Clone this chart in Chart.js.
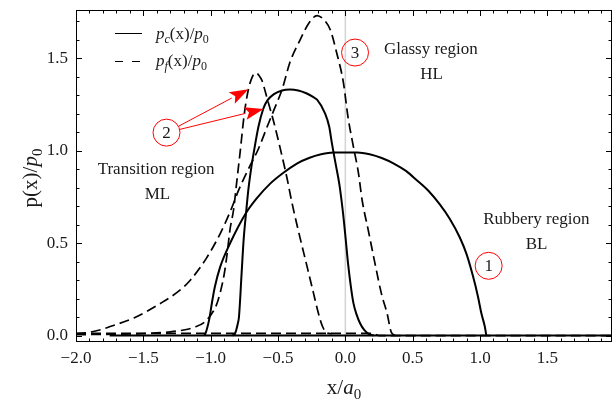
<!DOCTYPE html>
<html>
<head>
<meta charset="utf-8">
<script src="https://cdn.jsdelivr.net/npm/chart.js@4.4.1/dist/chart.umd.min.js"></script>
<style>
  html, body { margin: 0; padding: 0; background: #fff; }
  canvas { display: block; }
</style>
</head>
<body>
<canvas id="chart" width="613" height="404"></canvas>
<script>
// Axis ticks
const xTicks = [-2.0, -1.5, -1.0, -0.5, 0.0, 0.5, 1.0, 1.5];
const yTicks = [0.0, 0.5, 1.0, 1.5];

// Rubbery region (BL), contact pressure p_c
const blcX = [-1.045, -1.03, -1.01, -0.99, -0.97, -0.93, -0.855, -0.74, -0.66, -0.56, -0.46, -0.36, -0.27, -0.18, -0.09, 0.0, 0.09, 0.18, 0.27, 0.36, 0.45, 0.53, 0.62, 0.7, 0.776, 0.85, 0.9, 0.948, 0.985, 1.01, 1.035, 1.047];
const blcY = [0.0, 0.03, 0.09, 0.18, 0.26, 0.37, 0.5, 0.66, 0.74, 0.82, 0.88, 0.93, 0.96, 0.98, 0.99, 0.99, 0.99, 0.98, 0.96, 0.93, 0.89, 0.84, 0.78, 0.71, 0.63, 0.53, 0.44, 0.32, 0.21, 0.12, 0.05, 0.0];
// Rubbery region (BL), friction p_f (almost zero)
const blfX = [-2.0, 0.2, 0.25, 1.98];
const blfY = [0.012, 0.012, 0.0, 0.0];

// Transition region (ML), p_c
const mlcX = [-0.84, -0.82, -0.8, -0.79, -0.77, -0.755, -0.735, -0.72, -0.7, -0.68, -0.645, -0.61, -0.58, -0.53, -0.47, -0.41, -0.35, -0.29, -0.24, -0.21, -0.15, -0.12, -0.1, -0.07, -0.045, -0.02, 0.0, 0.02, 0.04, 0.06, 0.085, 0.11, 0.14, 0.17, 0.21];
const mlcY = [0.0, 0.01, 0.06, 0.1, 0.34, 0.52, 0.68, 0.79, 0.9, 0.99, 1.13, 1.225, 1.27, 1.305, 1.325, 1.33, 1.325, 1.31, 1.29, 1.275, 1.2, 1.13, 1.04, 0.92, 0.82, 0.68, 0.54, 0.39, 0.27, 0.175, 0.11, 0.065, 0.03, 0.01, 0.0];
// Transition region (ML), p_f
const mlfX = [-2.0, -1.7, -1.45, -1.3, -1.2, -1.12, -1.05, -1.0, -0.96, -0.93, -0.9, -0.88, -0.855, -0.83, -0.805, -0.78, -0.75, -0.72, -0.69, -0.665, -0.64, -0.62, -0.58, -0.53, -0.47, -0.43, -0.4, -0.35, -0.29, -0.24, -0.2, -0.17, -0.14, -0.1];
const mlfY = [0.005, 0.007, 0.012, 0.02, 0.03, 0.045, 0.07, 0.11, 0.16, 0.23, 0.33, 0.43, 0.58, 0.68, 0.84, 1.0, 1.2, 1.33, 1.4, 1.42, 1.405, 1.38, 1.28, 1.15, 0.97, 0.84, 0.73, 0.57, 0.39, 0.24, 0.12, 0.05, 0.015, 0.01];

// Glassy region (HL), p_c (almost zero)
const hlcX = [-1.75, 1.98];
const hlcY = [0.0, 0.0];
// Glassy region (HL), p_f
const hlfX = [-2.0, -1.92, -1.8, -1.74, -1.57, -1.37, -1.22, -1.15, -1.03, -0.93, -0.855, -0.79, -0.72, -0.645, -0.58, -0.53, -0.47, -0.41, -0.335, -0.27, -0.21, -0.15, -0.11, -0.065, -0.015, 0.02, 0.06, 0.097, 0.125, 0.17, 0.22, 0.27, 0.31, 0.34, 0.37];
const hlfY = [0.01, 0.015, 0.035, 0.05, 0.095, 0.175, 0.25, 0.3, 0.42, 0.55, 0.67, 0.79, 0.9, 1.01, 1.13, 1.22, 1.33, 1.48, 1.6, 1.69, 1.73, 1.7, 1.65, 1.53, 1.37, 1.18, 1.02, 0.88, 0.73, 0.57, 0.39, 0.22, 0.12, 0.02, 0.0];

// Annotations in data coordinates
const regionLabels = [
    ['Transition region', -1.405, 0.897], ['ML', -1.395, 0.76],
    ['Glassy region', 0.635, 1.546], ['HL', 0.64, 1.41],
    ['Rubbery region', 1.418, 0.626], ['BL', 1.42, 0.49]
];
const circleLabels = [['1', 1.064, 0.377], ['2', -1.328, 1.097], ['3', 0.072, 1.53]];
const arrowTips = [[-0.719, 1.332], [-0.607, 1.225]];

const SERIF = '"Liberation Serif", "DejaVu Serif", serif';
const TEXT = '#1a1a1a';

function pts(xs, ys) {
    return xs.map((x, i) => ({ x: x, y: ys[i] }));
}

function solid(xs, ys) {
    return { data: pts(xs, ys), borderColor: '#000', borderWidth: 2, showLine: true,
             pointRadius: 0, cubicInterpolationMode: 'monotone', fill: false };
}
function dashed(xs, ys) {
    return { data: pts(xs, ys), borderColor: '#000', borderWidth: 1.7, borderDash: [10, 5], showLine: true,
             pointRadius: 0, cubicInterpolationMode: 'monotone', fill: false };
}

function fmt(v) {
    const s = Math.abs(v).toFixed(1);
    return v < -1e-9 ? '\u2212' + s : s;
}

// draws text made of parts: [text, style]; style '' upright, 'i' italic, 's' subscript, 'is' italic subscript
function drawRich(ctx, parts, x, y, size, align) {
    const fontFor = st => (st.indexOf('i') >= 0 ? 'italic ' : '') + Math.round(st.indexOf('s') >= 0 ? size * 0.7 : size) + 'px ' + SERIF;
    let total = 0;
    parts.forEach(p => { ctx.font = fontFor(p[1]); total += ctx.measureText(p[0]).width; });
    let cx = align === 'center' ? x - total / 2 : x;
    ctx.textAlign = 'left';
    ctx.textBaseline = 'alphabetic';
    parts.forEach(p => {
        ctx.font = fontFor(p[1]);
        const dy = p[1].indexOf('s') >= 0 ? size * 0.22 : 0;
        ctx.fillText(p[0], cx, y + dy);
        cx += ctx.measureText(p[0]).width;
    });
}

const decorPlugin = {
    id: 'decor',
    beforeDatasetsDraw(chart) {
        const ctx = chart.ctx, a = chart.chartArea;
        const x0 = chart.scales.x.getPixelForValue(0);
        ctx.save();
        ctx.strokeStyle = '#d4d4d4';
        ctx.lineWidth = 1.5;
        ctx.beginPath();
        ctx.moveTo(x0, a.top);
        ctx.lineTo(x0, a.bottom);
        ctx.stroke();
        ctx.restore();
    },
    afterDraw(chart) {
        const ctx = chart.ctx, a = chart.chartArea;
        const xs = chart.scales.x, ys = chart.scales.y;
        ctx.save();

        // frame
        ctx.strokeStyle = '#000';
        ctx.lineWidth = 1;
        ctx.strokeRect(a.left + 0.5, a.top + 0.5, a.right - a.left - 1, a.bottom - a.top - 1);

        // inward ticks on all four sides
        ctx.beginPath();
        for (let i = -20; i <= 19; i++) {
            const px = Math.round(xs.getPixelForValue(i / 10)) + 0.5;
            const len = i % 5 === 0 ? 6 : 3.5;
            ctx.moveTo(px, a.bottom); ctx.lineTo(px, a.bottom - len);
            ctx.moveTo(px, a.top); ctx.lineTo(px, a.top + len);
        }
        for (let i = 0; i <= 17; i++) {
            const py = Math.round(ys.getPixelForValue(i / 10)) + 0.5;
            const len = i % 5 === 0 ? 6 : 3.5;
            ctx.moveTo(a.left, py); ctx.lineTo(a.left + len, py);
            ctx.moveTo(a.right, py); ctx.lineTo(a.right - len, py);
        }
        ctx.stroke();

        // region labels
        ctx.fillStyle = TEXT;
        ctx.font = '17px ' + SERIF;
        ctx.textAlign = 'center';
        ctx.textBaseline = 'middle';
        regionLabels.forEach(r => ctx.fillText(r[0], xs.getPixelForValue(r[1]), ys.getPixelForValue(r[2])));

        // numbered red circles
        circleLabels.forEach(c => {
            const cx = xs.getPixelForValue(c[1]), cy = ys.getPixelForValue(c[2]);
            ctx.strokeStyle = '#ff0000';
            ctx.lineWidth = 1;
            ctx.beginPath();
            ctx.arc(cx, cy, 13.5, 0, Math.PI * 2);
            ctx.stroke();
            ctx.fillStyle = TEXT;
            ctx.font = '17px ' + SERIF;
            ctx.textAlign = 'center';
            ctx.textBaseline = 'middle';
            ctx.fillText(c[0], cx, cy + 1);
        });

        // arrows from circle 2
        const c2 = circleLabels[1];
        const ox = xs.getPixelForValue(c2[1]), oy = ys.getPixelForValue(c2[2]);
        arrowTips.forEach(t => {
            const tx = xs.getPixelForValue(t[0]), ty = ys.getPixelForValue(t[1]);
            const dx = tx - ox, dy = ty - oy, d = Math.hypot(dx, dy);
            const ux = dx / d, uy = dy / d;
            const sx = ox + ux * 13.5, sy = oy + uy * 13.5;
            const hl = 19, hw = 6.5;
            const bx = tx - ux * hl, by = ty - uy * hl;
            ctx.strokeStyle = '#ff0000';
            ctx.fillStyle = '#ff0000';
            ctx.lineWidth = 1;
            ctx.beginPath();
            ctx.moveTo(sx, sy);
            ctx.lineTo(bx, by);
            ctx.stroke();
            ctx.beginPath();
            ctx.moveTo(tx, ty);
            ctx.lineTo(bx - uy * hw, by + ux * hw);
            ctx.lineTo(bx + ux * 4, by + uy * 4);
            ctx.lineTo(bx + uy * hw, by - ux * hw);
            ctx.closePath();
            ctx.fill();
        });

        // legend
        ctx.strokeStyle = '#000';
        ctx.lineWidth = 1;
        ctx.beginPath();
        ctx.moveTo(115, 33.5); ctx.lineTo(142, 33.5);
        ctx.moveTo(115, 61.5); ctx.lineTo(123, 61.5);
        ctx.moveTo(132, 61.5); ctx.lineTo(140, 61.5);
        ctx.stroke();
        ctx.fillStyle = TEXT;
        drawRich(ctx, [['p', 'i'], ['c', 'is'], ['(x)/', ''], ['p', 'i'], ['0', 's']], 156, 39, 17, 'left');
        drawRich(ctx, [['p', 'i'], ['f', 'is'], ['(x)/', ''], ['p', 'i'], ['0', 's']], 156, 66, 17, 'left');

        // axis titles
        drawRich(ctx, [['x/', ''], ['a', 'i'], ['0', 's']], (a.left + a.right) / 2, 394, 21, 'center');
        ctx.save();
        ctx.translate(30, 178);
        ctx.rotate(-Math.PI / 2);
        drawRich(ctx, [['p(x)/', ''], ['p', 'i'], ['0', 's']], 0, 7, 21, 'center');
        ctx.restore();

        ctx.restore();
    }
};

const tickFont = { family: SERIF, size: 17 };

// keep the plot area fixed: no extra padding for tick labels
function noPad(s) {
    s.paddingTop = 0; s.paddingBottom = 0; s.paddingLeft = 0; s.paddingRight = 0;
}

new Chart(document.getElementById('chart'), {
    type: 'scatter',
    data: {
        datasets: [
            dashed(blfX, blfY),
            solid(hlcX, hlcY),
            dashed(hlfX, hlfY),
            dashed(mlfX, mlfY),
            solid(mlcX, mlcY),
            solid(blcX, blcY)
        ]
    },
    options: {
        responsive: false,
        animation: false,
        layout: { autoPadding: false, padding: { top: 10, right: 1, left: 0, bottom: 0 } },
        plugins: { legend: { display: false }, tooltip: { enabled: false } },
        scales: {
            x: {
                type: 'linear', min: -2.0, max: 1.98,
                grid: { display: false, drawTicks: false },
                border: { display: false },
                afterBuildTicks: s => { s.ticks = xTicks.map(v => ({ value: v })); },
                afterFit: s => { s.height = 62; noPad(s); },
                ticks: { font: tickFont, color: TEXT, padding: 6, maxRotation: 0, autoSkip: false, callback: v => fmt(v) }
            },
            y: {
                type: 'linear', min: -0.035, max: 1.76,
                grid: { display: false, drawTicks: false },
                border: { display: false },
                afterBuildTicks: s => { s.ticks = yTicks.map(v => ({ value: v })); },
                afterFit: s => { s.width = 76; noPad(s); },
                ticks: { font: tickFont, color: TEXT, padding: 8, autoSkip: false, callback: v => fmt(v) }
            }
        }
    },
    plugins: [decorPlugin]
});
</script>
</body>
</html>
